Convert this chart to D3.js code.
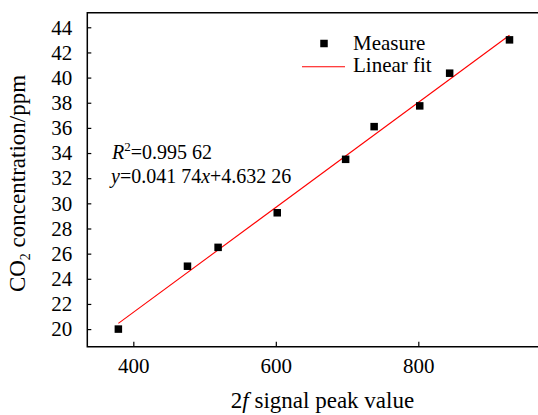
<!DOCTYPE html>
<html>
<head>
<meta charset="utf-8">
<script src="https://cdn.jsdelivr.net/npm/d3@7"></script>
<style>
    body { margin: 0; background: #fff; }
    svg { display: block; }
    svg text { font-family: "Times New Roman", "Liberation Serif", Tinos, "DejaVu Serif", serif; }
</style>
</head>
<body>
<svg id="chart" width="538" height="415"></svg>
<script>
// measured points
var signalPeak = [379, 476, 519, 602, 698, 738, 802, 844, 928];
var co2Ppm = [20.0, 25.0, 26.5, 29.25, 33.5, 36.1, 37.75, 40.35, 43.0];

var fitSlope = 0.04174;
var fitIntercept = 4.63226;

var xTicks = [400, 600, 800];
var yTicks = [20, 22, 24, 26, 28, 30, 32, 34, 36, 38, 40, 42, 44];

const FONT = "'Times New Roman', 'Liberation Serif', Tinos, 'DejaVu Serif', serif";

var svg = d3.select("#chart");

var plotLeft = 87.3, plotRight = 560.8, plotTop = 12.7, plotBottom = 346.7;

var x = d3.scaleLinear().domain([335.4, 1000]).range([plotLeft, plotRight]);
var y = d3.scaleLinear().domain([18.6, 45.16]).range([plotBottom, plotTop]);

// axes, ticks point inward
var xAxis = svg.append("g")
    .attr("transform", "translate(0," + plotBottom + ")")
    .call(d3.axisBottom(x).tickValues(xTicks).tickSize(-5).tickPadding(11).tickFormat(d3.format("d")));

var yAxis = svg.append("g")
    .attr("transform", "translate(" + plotLeft + ",0)")
    .call(d3.axisLeft(y).tickValues(yTicks).tickSize(-4).tickPadding(15).tickFormat(d3.format("d")));

[xAxis, yAxis].forEach(function(g)
{
    g.attr("font-family", FONT).attr("font-size", 21);
    g.selectAll(".domain").remove();
    g.selectAll("line").attr("stroke", "#000").attr("stroke-width", 1.2);
    g.selectAll("text").attr("fill", "#000");
});

// frame: left, top, bottom (right edge is outside the picture)
svg.append("path")
    .attr("d", "M" + plotRight + "," + plotTop + "H" + plotLeft + "V" + plotBottom + "H" + plotRight)
    .attr("fill", "none")
    .attr("stroke", "#000")
    .attr("stroke-width", 1.5);

// linear fit
var fitX = d3.extent(signalPeak);
svg.append("line")
    .attr("x1", x(fitX[0]))
    .attr("y1", y(fitSlope * fitX[0] + fitIntercept))
    .attr("x2", x(fitX[1]))
    .attr("y2", y(fitSlope * fitX[1] + fitIntercept))
    .attr("stroke", "#ff0000")
    .attr("stroke-width", 1.1);

// measured points
const MARK = 7.5;
svg.append("g")
    .selectAll("rect")
    .data(signalPeak)
    .enter().append("rect")
        .attr("x", function(d) { return x(d) - MARK / 2; })
        .attr("y", function(d, i) { return y(co2Ppm[i]) - MARK / 2; })
        .attr("width", MARK)
        .attr("height", MARK)
        .attr("fill", "#000");

// legend
var legend = svg.append("g").attr("font-family", FONT).attr("font-size", 21);
legend.append("rect")
    .attr("x", 324 - MARK / 2).attr("y", 43.5 - MARK / 2)
    .attr("width", MARK).attr("height", MARK)
    .attr("fill", "#000");
legend.append("text").attr("x", 353).attr("y", 49.5).text("Measure");
legend.append("line")
    .attr("x1", 302).attr("x2", 345)
    .attr("y1", 66.7).attr("y2", 66.7)
    .attr("stroke", "#ff0000").attr("stroke-width", 1.1);
legend.append("text").attr("x", 353).attr("y", 71.5).text("Linear fit");

// fit equation
var eq = svg.append("g").attr("font-family", FONT).attr("font-size", 20);
var t1 = eq.append("text").attr("x", 112).attr("y", 158.5);
t1.append("tspan").style("font-style", "italic").text("R");
t1.append("tspan").attr("dy", -8).attr("font-size", 13).text("2");
t1.append("tspan").attr("dy", 8).text("=0.995 62");

var t2 = eq.append("text").attr("x", 111).attr("y", 182.5);
t2.append("tspan").style("font-style", "italic").text("y");
t2.append("tspan").text("=0.041 74");
t2.append("tspan").style("font-style", "italic").text("x");
t2.append("tspan").text("+4.632 26");

// axis titles
var xt = svg.append("text")
    .attr("x", 322.5).attr("y", 408)
    .attr("text-anchor", "middle")
    .attr("font-family", FONT).attr("font-size", 23);
xt.append("tspan").text("2");
xt.append("tspan").style("font-style", "italic").text("f");
xt.append("tspan").text(" signal peak value");

var yt = svg.append("text")
    .attr("transform", "translate(25,183.5) rotate(-90)")
    .attr("text-anchor", "middle")
    .attr("font-family", FONT).attr("font-size", 23);
yt.append("tspan").text("CO");
yt.append("tspan").attr("dy", 5).attr("font-size", 14).text("2");
yt.append("tspan").attr("dy", -5).text(" concentration/ppm");
</script>
</body>
</html>
